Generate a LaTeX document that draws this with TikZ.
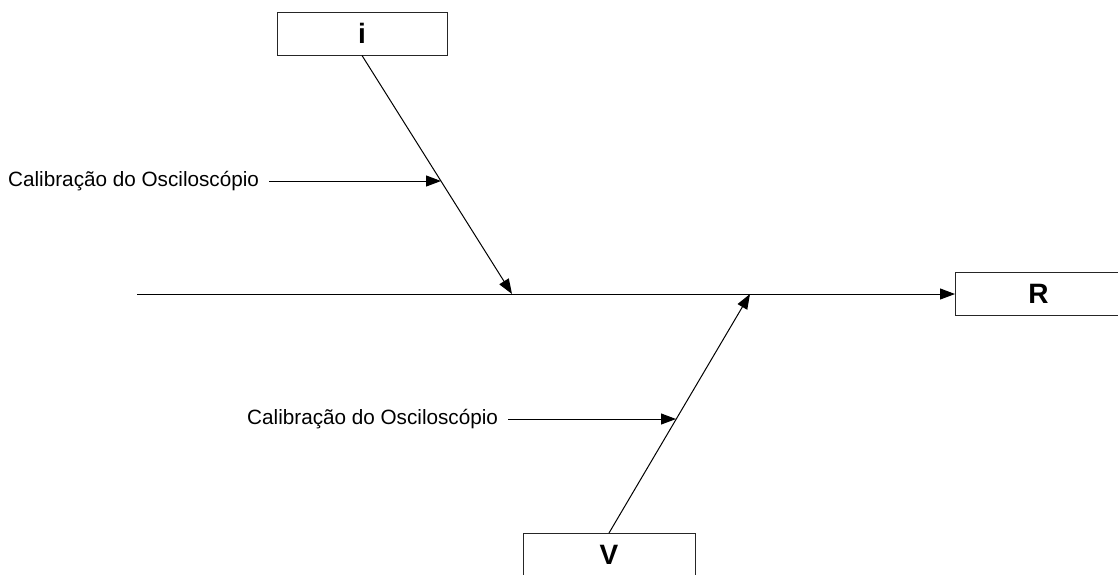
\documentclass[tikz,border=0pt]{standalone}
\usepackage{fontspec}
\setmainfont{Liberation Sans}
\usetikzlibrary{arrows.meta}
\begin{document}
\begin{tikzpicture}[x=1pt,y=-1pt,
  effect/.style={draw=black!85,line width=1pt,fill=white,
    minimum width=170pt,minimum height=43pt,inner sep=0pt,
    font=\fontsize{28}{32}\selectfont\bfseries},
  cause/.style={font=\fontsize{20.7}{24}\selectfont,inner sep=0pt,anchor=west},
  bone/.style={line width=1pt,-{Triangle[length=15pt,width=11pt]}},
  twig/.style={line width=1pt,-{Triangle[length=15pt,width=11pt]}}]
\useasboundingbox (0,0) rectangle (1118,574);
\clip (0,0) rectangle (1118,574);
% boxes
\node[effect] (i) at (362,33.5) {i};
\node[effect,minimum width=172pt,anchor=west] (R) at (955,294) {\hspace*{-6pt}R};
\node[effect,minimum width=172pt,anchor=north] (V) at (609,533) {V};
% spine
\coordinate (tail) at (137,294);
\coordinate (j1) at (512,294);
\coordinate (j2) at (750,294);
\draw[bone] (tail) -- (R.west);
% main bones
\draw[bone] (i.south) -- (j1);
\draw[bone] (V.north) -- (j2);
% causes
\coordinate (c1) at (441,181);
\coordinate (c2) at (676,419);
\node[cause] (l1) at (8,181) {Calibração do Osciloscópio};
\node[cause] (l2) at (247,419) {Calibração do Osciloscópio};
\draw[twig] ([xshift=10pt]l1.east) -- (c1);
\draw[twig] ([xshift=10pt]l2.east) -- (c2);
\end{tikzpicture}
\end{document}
